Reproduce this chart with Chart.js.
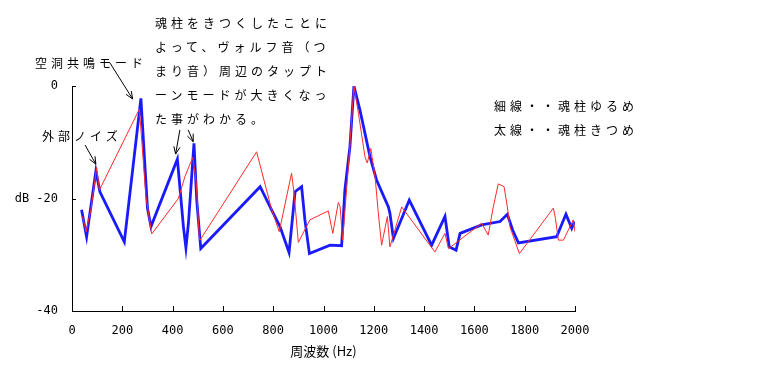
<!DOCTYPE html>
<html>
<head>
<meta charset="utf-8">
<script src="https://cdn.jsdelivr.net/npm/chart.js@4/dist/chart.umd.min.js"></script>
<style>
    body { margin: 0; background: #fff; }
    #wrap { position: relative; width: 757px; height: 367px; }
    .note {
        position: absolute;
        font-family: "Noto Sans CJK JP", sans-serif;
        font-size: 12px;
        letter-spacing: 4px;
        line-height: 24px;
        color: #000;
        white-space: nowrap;
    }
</style>
</head>
<body>
<div id="wrap">
    <canvas id="chart" width="757" height="367"></canvas>
    <div class="note" style="left:35px; top:51px;">空洞共鳴モード</div>
    <div class="note" style="left:42px; top:124px;">外部ノイズ</div>
    <div class="note" style="left:155px; top:11px;">魂柱をきつくしたことに<br>よって、ヴォルフ音（つ<br>まり音）周辺のタップト<br>ーンモードが大きくなっ<br>た事がわかる。</div>
    <div class="note" style="left:494px; top:94px;">細線・・魂柱ゆるめ<br>太線・・魂柱きつめ</div>
</div>
<script>
// 周波数 (Hz) / 相対レベル (dB)
// 細線 = 魂柱ゆるめ (red)
const looseHz = [42, 56, 75, 98, 109, 268, 294, 317, 423, 449, 480, 493, 506, 509, 734, 794, 824, 873, 883, 900, 946,
    1019, 1037, 1059, 1066, 1076, 1099, 1121, 1139, 1165, 1174, 1188, 1205, 1218, 1231, 1254, 1264, 1311, 1443,
    1483, 1497, 1629, 1655, 1675, 1695, 1718, 1731, 1741, 1779, 1914, 1922, 1934, 1954, 1993, 2000];
const looseDb = [-23.2, -25.9, -22.0, -14.5, -18.5, -4.1, -19.7, -26.3, -20.0, -16.1, -12.7, -16.7, -26.8, -27.4, -11.7, -22.0, -25.9, -15.5, -19.1, -27.8, -23.8,
    -22.2, -26.2, -20.7, -21.4, -27.4, -14.3, 0, -4.9, -12.6, -13.7, -11.1, -16.1, -22.6, -28.3, -23.2, -28.6, -21.5, -29.5,
    -26.2, -28.9, -24.4, -26.5, -21.5, -17.4, -17.9, -21.5, -25.0, -29.8, -21.7, -23.5, -27.4, -27.4, -23.8, -25.9];

// 太線 = 魂柱きつめ (blue)
const tightHz = [38, 58, 95, 111, 208, 274, 300, 314, 419, 443, 453, 463, 485, 496, 512, 748, 800, 827, 863, 887, 913, 926, 944,
    1026, 1072, 1085, 1105, 1121, 1145, 1185, 1211, 1258, 1264, 1278, 1341, 1430, 1483, 1500, 1527, 1543, 1629, 1702, 1731,
    1752, 1775, 1927, 1964, 1987, 1998];
const tightDb = [-22.0, -26.8, -15.1, -18.8, -27.7, -2.2, -21.7, -25.0, -13.0, -25.0, -28.8, -24.4, -10.2, -20.3, -28.9, -17.9, -22.6, -25.0, -29.6, -18.8, -17.9, -23.8, -29.8,
    -28.3, -28.4, -18.5, -10.8, 0, -4.3, -12.6, -16.7, -21.5, -22.6, -27.1, -20.3, -28.3, -23.2, -28.6, -29.2, -26.2, -24.7, -24.1, -22.8,
    -25.6, -27.9, -26.8, -22.8, -25.3, -24.1];

const xTicks = [0, 200, 400, 600, 800, 1000, 1200, 1400, 1600, 1800, 2000];
const yTicks = [0, -20, -40];

// 注釈の矢印 (データ座標: Hz, dB)
const arrows = [
    { from: [52, -10.5], to: [95, -13.9] },
    { from: [151, 4.1], to: [241, -2.3] },
    { from: [429, -7.8], to: [412, -12.1] },
    { from: [462, -7.8], to: [482, -9.9] }
];

const toPoints = (xs, ys) => xs.map((x, i) => ({ x: x, y: ys[i] }));

// 目盛り線（内向き）と矢印
const extras = {
    id: 'extras',
    afterDraw(chart) {
        const ctx = chart.ctx;
        const xs = chart.scales.x;
        const ys = chart.scales.y;
        const area = chart.chartArea;
        ctx.save();
        ctx.strokeStyle = '#000';
        ctx.lineWidth = 1;
        ctx.beginPath();
        xTicks.forEach(v => {
            const px = Math.round(xs.getPixelForValue(v)) + 0.5;
            ctx.moveTo(px, area.bottom);
            ctx.lineTo(px, area.bottom - 5);
        });
        yTicks.forEach(v => {
            const py = Math.round(ys.getPixelForValue(v)) + 0.5;
            ctx.moveTo(area.left, py);
            ctx.lineTo(area.left + 4, py);
        });
        ctx.stroke();

        arrows.forEach(a => {
            const x1 = xs.getPixelForValue(a.from[0]);
            const y1 = ys.getPixelForValue(a.from[1]);
            const x2 = xs.getPixelForValue(a.to[0]);
            const y2 = ys.getPixelForValue(a.to[1]);
            const ang = Math.atan2(y2 - y1, x2 - x1);
            ctx.beginPath();
            ctx.moveTo(x1, y1);
            ctx.lineTo(x2, y2);
            ctx.moveTo(x2 - 8 * Math.cos(ang - 0.4), y2 - 8 * Math.sin(ang - 0.4));
            ctx.lineTo(x2, y2);
            ctx.lineTo(x2 - 8 * Math.cos(ang + 0.4), y2 - 8 * Math.sin(ang + 0.4));
            ctx.stroke();
        });
        ctx.restore();
    }
};

new Chart(document.getElementById('chart'), {
    type: 'line',
    data: {
        datasets: [
            {
                label: '細線・・魂柱ゆるめ',
                data: toPoints(looseHz, looseDb),
                borderColor: '#ff2a2a',
                borderWidth: 1,
                pointRadius: 0,
                tension: 0
            },
            {
                label: '太線・・魂柱きつめ',
                data: toPoints(tightHz, tightDb),
                borderColor: '#1a1aff',
                borderWidth: 2.8,
                pointRadius: 0,
                tension: 0
            }
        ]
    },
    options: {
        responsive: false,
        animation: false,
        layout: { padding: { top: 86, right: 182, left: 0, bottom: 0 } },
        plugins: {
            legend: { display: false },
            tooltip: { enabled: false }
        },
        scales: {
            x: {
                type: 'linear',
                min: 0,
                max: 2000,
                afterFit: s => { s.height = 56; },
                afterBuildTicks: s => { s.ticks = xTicks.map(v => ({ value: v })); },
                grid: { display: false },
                border: { display: true, color: '#000', width: 1 },
                ticks: {
                    color: '#000',
                    padding: 5,
                    maxRotation: 0,
                    font: { family: '"DejaVu Sans Mono", monospace', size: 12 },
                    callback: v => String(v)
                },
                title: {
                    display: true,
                    text: '周波数 (Hz)',
                    color: '#000',
                    padding: { top: 0, bottom: 8 },
                    font: { family: '"Noto Sans CJK JP", sans-serif', size: 13 }
                }
            },
            y: {
                min: -40,
                max: 0,
                afterFit: s => { s.width = 72; },
                afterBuildTicks: s => { s.ticks = yTicks.map(v => ({ value: v })); },
                grid: { display: false },
                border: { display: true, color: '#000', width: 1 },
                ticks: {
                    color: '#000',
                    padding: 6,
                    font: { family: '"DejaVu Sans Mono", monospace', size: 12 },
                    callback: v => (v === -20 ? 'dB -20' : String(v))
                }
            }
        }
    },
    plugins: [extras]
});
</script>
</body>
</html>
